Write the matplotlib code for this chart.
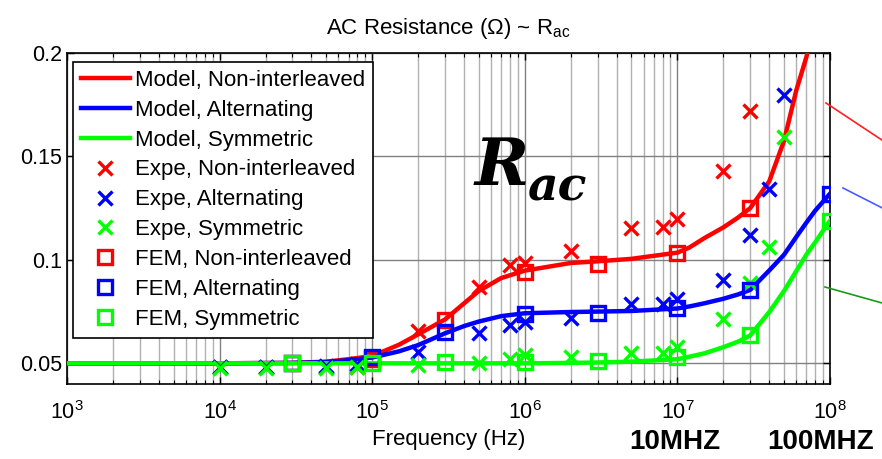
import numpy as np
import matplotlib
matplotlib.use('Agg')
import matplotlib.pyplot as plt
from matplotlib.lines import Line2D
from matplotlib.ticker import LogLocator

plt.rcParams['font.family'] = ['Liberation Sans', 'DejaVu Sans']
plt.rcParams['mathtext.fontset'] = 'custom'
plt.rcParams['mathtext.rm'] = 'Liberation Sans'
plt.rcParams['mathtext.it'] = 'Liberation Sans:italic'
plt.rcParams['mathtext.bf'] = 'Liberation Sans:bold'

# model curves
model_freq = [1e3, 1e4, 3e4, 5e4, 7e4, 1e5, 1.5e5, 2e5, 3e5, 4e5, 5e5, 7e5, 1e6, 2e6, 3e6,
              5e6, 1e7, 1.2e7, 1.5e7, 2e7, 2.5e7, 3e7, 4e7, 5e7, 6e7, 7e7, 8e7, 1e8]
model_non = [0.05, 0.05, 0.0502, 0.0508, 0.052, 0.0535, 0.059, 0.064, 0.0712, 0.079, 0.085,
             0.0912, 0.0948, 0.0985, 0.0993, 0.1005, 0.1035, 0.106, 0.1105, 0.1157, 0.1205,
             0.125, 0.138, 0.1576, 0.1817, 0.198, 0.215, 0.25]
model_alt = [0.05, 0.05, 0.0502, 0.0506, 0.0515, 0.0528, 0.0558, 0.0588, 0.0645, 0.068, 0.0702,
             0.0728, 0.0742, 0.0748, 0.075, 0.0753, 0.0765, 0.0775, 0.079, 0.0812, 0.0833,
             0.0855, 0.0949, 0.1025, 0.111, 0.118, 0.1238, 0.132]
model_sym = [0.05, 0.05, 0.05, 0.05, 0.05, 0.05, 0.05, 0.05, 0.05, 0.05, 0.05,
             0.05, 0.05, 0.0502, 0.0504, 0.0508, 0.052, 0.0532, 0.0548, 0.0578, 0.0605,
             0.0635, 0.0748, 0.085, 0.0945, 0.1025, 0.1085, 0.119]

# measured points
expe_freq = [1e4, 2e4, 5e4, 8e4, 2e5, 5e5, 8e5, 1e6, 2e6, 5e6, 8e6, 1e7, 2e7, 3e7, 4e7, 5e7]
expe_non = [0.048, 0.048, 0.048, 0.048, 0.0654, 0.0867, 0.0973, 0.0987, 0.1045, 0.1156,
            0.1161, 0.12, 0.1431, 0.172, np.nan, np.nan]
expe_alt = [0.048, 0.048, 0.0485, 0.0495, 0.0553, 0.0645, 0.0683, 0.0698, 0.0717, 0.0785,
            0.0785, 0.0809, 0.0905, 0.1122, 0.1344, 0.1795]
expe_sym = [0.0476, 0.0476, 0.0476, 0.048, 0.049, 0.05, 0.052, 0.0539, 0.0529, 0.0548,
            0.0548, 0.0577, 0.0712, 0.089, 0.106, 0.1595]

# FEM points
fem_freq = [3e4, 1e5, 3e5, 1e6, 3e6, 1e7, 3e7, 1e8]
fem_non = [0.05, 0.052, 0.0707, 0.094, 0.0982, 0.1033, 0.125, np.nan]
fem_alt = [0.05, 0.053, 0.0652, 0.074, 0.0745, 0.0765, 0.0855, 0.132]
fem_sym = [0.05, 0.05, 0.0505, 0.0505, 0.0512, 0.053, 0.0635, 0.119]

fig = plt.figure(figsize=(8.82, 4.59), dpi=100)
ax = fig.add_axes([67/882, 1-384/459, 763/882, 331/459])

red, blue, green = '#ff0000', '#0000ff', '#00ff00'
lw = 3.2

ax.plot(model_freq, model_non, color=red, lw=lw, label='Model, Non-interleaved', zorder=3)
ax.plot(model_freq, model_alt, color=blue, lw=lw, label='Model, Alternating', zorder=3)
ax.plot(model_freq, model_sym, color=green, lw=lw, label='Model, Symmetric', zorder=3)

xkw = dict(ls='none', marker='x', ms=9.5, mew=2.4, zorder=4)
ax.plot(expe_freq, expe_non, color=red, label='Expe, Non-interleaved', **xkw)
ax.plot(expe_freq, expe_alt, color=blue, label='Expe, Alternating', **xkw)
ax.plot(expe_freq, expe_sym, color=green, label='Expe, Symmetric', **xkw)

skw = dict(ls='none', marker='s', ms=10, mew=2.4, mfc='none', zorder=5)
ax.plot(fem_freq, fem_non, color=red, label='FEM, Non-interleaved', **skw)
ax.plot(fem_freq, fem_alt, color=blue, label='FEM, Alternating', **skw)
ax.plot(fem_freq, fem_sym, color=green, label='FEM, Symmetric', **skw)

ax.set_xscale('log')
ax.set_xlim(1e3, 1e8)
ax.set_ylim(0.04, 0.2)
ax.set_yticks([0.05, 0.1, 0.15, 0.2])
ax.set_yticklabels(['0.05', '0.1', '0.15', '0.2'])
ax.xaxis.set_minor_locator(LogLocator(base=10, subs=np.arange(2, 10), numticks=20))

ax.grid(True, which='major', axis='both', color='#808080', lw=1.0, zorder=0)
ax.grid(True, which='minor', axis='x', color='#b0b0b0', lw=1.0, zorder=0)
ax.tick_params(which='both', direction='in', top=True, right=True, labelsize=15.5, color='black')
ax.tick_params(which='major', length=5, width=1)
ax.tick_params(which='minor', length=3, width=0.8)
ax.tick_params(axis='x', pad=12)
for s in ax.spines.values():
    s.set_linewidth(1.2)

ax.set_title('AC Resistance (\u03a9) ~ R$_{\\mathregular{ac}}$', fontsize=16, pad=14)
ax.set_xlabel('Frequency (Hz)', fontsize=16, labelpad=4)

leg = ax.legend(loc='upper left', bbox_to_anchor=(6/763, 1-9/331), borderaxespad=0,
                fontsize=16, fancybox=False, framealpha=1, edgecolor='black',
                handlelength=2.2, handletextpad=0.25, labelspacing=0.4,
                borderpad=0.35, numpoints=1)
leg.get_frame().set_linewidth(1.2)
leg.set_zorder(10)

# big R_ac label
fig.text(475/882, 1-185/459, 'R', fontsize=47, family='DejaVu Serif',
         weight='bold', style='italic', ha='left', va='baseline')
fig.text(527/882, 1-200/459, 'ac', fontsize=34, family='DejaVu Serif',
         weight='bold', style='italic', ha='left', va='baseline')

# frequency markers under the axis
fig.text(675/882, 1-442/459, '10MHZ', fontsize=20, weight='bold', ha='center', va='center')
fig.text(821/882, 1-442/459, '100MHZ', fontsize=20, weight='bold', ha='center', va='center')

# pointer lines leaving the right edge
for (x0, y0, x1, y1, c) in [(826, 103, 900, 152, '#ff2020'),
                             (843, 188, 900, 217, '#4a5cff'),
                             (825, 287, 900, 308, '#1a9a1a')]:
    fig.add_artist(Line2D([x0/882, x1/882], [1-y0/459, 1-y1/459], color=c, lw=1.2))

fig.savefig('out.png', dpi=100)
